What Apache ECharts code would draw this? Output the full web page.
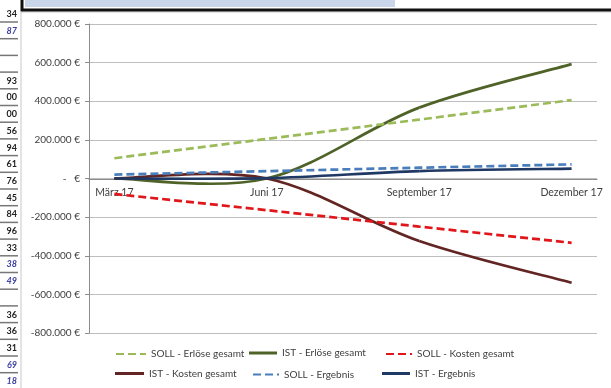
<!DOCTYPE html>
<html>
<head>
<meta charset="utf-8">
<script src="https://cdn.jsdelivr.net/npm/echarts@6/dist/echarts.min.js"></script>
<style>
  html, body { margin: 0; padding: 0; background: #fff; }
  #chart { width: 611px; height: 388px; }
</style>
</head>
<body>
<div id="chart"></div>
<script>
// monthly date axis; the values exist only at quarter ends
var months = ['März 17', 'April 17', 'Mai 17', 'Juni 17', 'Juli 17', 'August 17',
  'September 17', 'Oktober 17', 'November 17', 'Dezember 17'];
var quarters = ['März 17', 'Juni 17', 'September 17', 'Dezember 17'];

var sollErloese  = [105000, 205000, 305000, 406000];
var istErloese   = [0, 0, 367000, 592000];
var sollKosten   = [-80000, -164000, -249000, -333000];
var istKosten    = [0, 0, -324000, -540000];
var sollErgebnis = [20000, 38000, 56000, 73000];
var istErgebnis  = [0, 2000, 38000, 51000];

// spreadsheet cells peeking out on the left
var sideCells = ['34', '87', '', '', '93', '00', '00', '56', '94', '61', '76', '45',
  '84', '96', '33', '38', '49', '', '36', '36', '31', '69', '18'];
var sideBlue = [1, 15, 16, 21, 22];

var chart = echarts.init(document.getElementById('chart'));

function euro(v) {
  if (v === 0) return '-   €';
  var s = Math.abs(v).toString().replace(/\B(?=(\d{3})+(?!\d))/g, '.');
  return (v < 0 ? '-' : '') + s + ' €';
}

var font = 'Lato, "Open Sans", sans-serif';

function toPts(vals) {
  return vals.map(function (v, i) {
    return [months.indexOf(quarters[i]), v];
  });
}

// SOLL: straight dashed lines
function dashSeries(name, vals, color) {
  return {
    name: name,
    type: 'line',
    xAxisIndex: 1,
    data: toPts(vals),
    symbol: 'none',
    lineStyle: { color: color, width: 2.7, type: [8, 4] },
    itemStyle: { color: color }
  };
}

// IST: excel-like smoothed lines (catmull-rom through the quarter points)
function smoothSeries(name, vals, color) {
  var pts = toPts(vals);
  return {
    name: name,
    type: 'custom',
    xAxisIndex: 1,
    data: pts,
    itemStyle: { color: color },
    renderItem: function (params, api) {
      var i = params.dataIndex;
      if (i >= pts.length - 1) return null;
      var P = pts.map(function (p) { return api.coord(p); });
      var p0 = P[i - 1] || P[i], p1 = P[i], p2 = P[i + 1], p3 = P[i + 2] || P[i + 1];
      return {
        type: 'bezierCurve',
        shape: {
          x1: p1[0], y1: p1[1], x2: p2[0], y2: p2[1],
          cpx1: p1[0] + (p2[0] - p0[0]) / 6, cpy1: p1[1] + (p2[1] - p0[1]) / 6,
          cpx2: p2[0] - (p3[0] - p1[0]) / 6, cpy2: p2[1] - (p3[1] - p1[1]) / 6
        },
        style: { stroke: color, lineWidth: 2.7, fill: 'none' }
      };
    }
  };
}

var series = [
  dashSeries('SOLL - Erlöse gesamt', sollErloese, '#9BBB59'),
  smoothSeries('IST - Erlöse gesamt', istErloese, '#4F6228'),
  dashSeries('SOLL - Kosten gesamt', sollKosten, '#E0161B'),
  smoothSeries('IST - Kosten gesamt', istKosten, '#632523'),
  dashSeries('SOLL - Ergebnis', sollErgebnis, '#4A7EBB'),
  smoothSeries('IST - Ergebnis', istErgebnis, '#1F3864')
];

// [left, row centre, icon width]
var legendPos = [[115, 355, 30], [249, 355, 28], [385, 355, 26],
                 [115, 375.5, 29], [252, 375.5, 26], [382, 375.5, 28]];
var legends = series.map(function (s, i) {
  var solid = s.type === 'custom';
  var h = solid ? 3 : 12;
  var leg = {
    data: [s.name],
    left: legendPos[i][0],
    top: legendPos[i][1] - (solid ? 7 : 6),
    padding: 0,
    itemWidth: legendPos[i][2],
    itemHeight: h,
    itemGap: 0,
    itemStyle: { opacity: solid ? 1 : 0 },
    textStyle: { fontFamily: font, fontSize: 10, color: '#404040' },
    selectedMode: false
  };
  if (solid) leg.icon = 'rect';
  return leg;
});

var graphics = [
  { type: 'rect', shape: { x: 21, y: 12, width: 600, height: 390 },
    style: { fill: '#fff', stroke: '#C8C8C8', lineWidth: 1 }, z: -10 },
  { type: 'rect', shape: { x: 22, y: -4, width: 600, height: 14 },
    style: { fill: '#fff', stroke: '#111', lineWidth: 3 }, z: -9 },
  { type: 'rect', shape: { x: 25, y: 0, width: 370, height: 7 },
    style: { fill: '#C9D6EA' }, z: -8 }
];
sideCells.forEach(function (t, i) {
  var y = 14 + i * 16.7;
  graphics.push({ type: 'line', shape: { x1: 0, y1: y + 8, x2: 18, y2: y + 8 },
    style: { stroke: '#777', lineWidth: 1.5 } });
  if (t) {
    var blue = sideBlue.indexOf(i) >= 0;
    graphics.push({ type: 'text', x: 17, y: y, style: {
      text: t, align: 'right', verticalAlign: 'middle',
      font: (blue ? 'italic bold ' : 'bold ') + '9px ' + font,
      fill: blue ? '#3B3FA0' : '#222' } });
  }
});

var option = {
  backgroundColor: '#fff',
  animation: false,
  grid: { left: 89, right: 14, top: 24, bottom: 55 },
  legend: legends,
  graphic: graphics,
  xAxis: [{
    type: 'category',
    data: months,
    boundaryGap: true,
    offset: -154,
    axisLine: { onZero: false, lineStyle: { color: '#8C8C8C', width: 1 } },
    axisTick: { interval: 2, length: 4, lineStyle: { color: '#8C8C8C' } },
    axisLabel: { interval: 2, margin: 8, fontFamily: font, fontSize: 10.5, color: '#404040' },
    splitLine: { show: false }
  }, {
    type: 'value',
    min: -0.5,
    max: 9.5,
    show: false
  }],
  yAxis: {
    type: 'value',
    min: -800000,
    max: 800000,
    interval: 200000,
    axisLine: { show: true, onZero: false, lineStyle: { color: '#8C8C8C' } },
    axisTick: { show: true, length: 4, lineStyle: { color: '#8C8C8C' } },
    axisLabel: { formatter: euro, margin: 9, fontFamily: font, fontSize: 10, color: '#404040' },
    splitLine: { lineStyle: { color: '#BEBEBE', width: 1 } }
  },
  series: series
};

chart.setOption(option);
</script>
</body>
</html>
